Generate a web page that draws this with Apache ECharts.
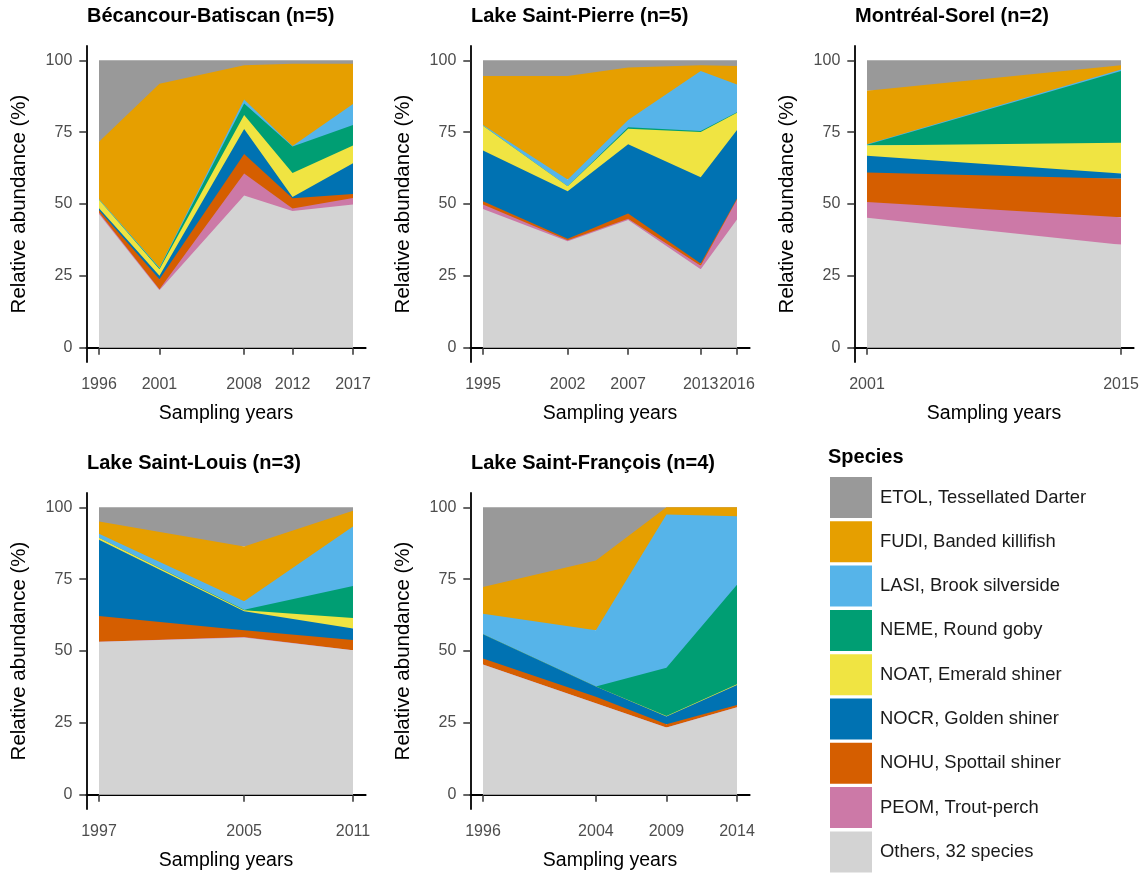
<!DOCTYPE html>
<html>
<head>
<meta charset="utf-8">
<script src="https://cdn.jsdelivr.net/npm/echarts@6/dist/echarts.min.js"></script>
<style>
  html, body { margin: 0; padding: 0; background: #fff; }
  #main { width: 1147px; height: 873px; }
</style>
</head>
<body>
<div id="main"></div>
<script>
// species, bottom of the stack first
var species = ['Others, 32 species', 'PEOM, Trout-perch', 'NOHU, Spottail shiner', 'NOCR, Golden shiner',
  'NOAT, Emerald shiner', 'NEME, Round goby', 'LASI, Brook silverside', 'FUDI, Banded killifish', 'ETOL, Tessellated Darter'];
var colors = ['#D3D3D3', '#CC79A7', '#D55E00', '#0072B2', '#F0E442', '#009E73', '#56B4E9', '#E69F00', '#999999'];
var yTicks = [0, 25, 50, 75, 100];

// relative abundance (%), one row per species in the order above
var becYears = [1996, 2001, 2008, 2012, 2017];
var becancour = [
  [46.5, 20, 53, 47.6, 49.8],
  [0.5, 0.3, 7.6, 0.8, 2.3],
  [0.8, 3.5, 6.8, 3.6, 1.4],
  [0.7, 1.2, 8.7, 0.4, 10.7],
  [3, 2.3, 4.9, 8.4, 6.2],
  [0, 0.3, 4, 9.2, 7.1],
  [0.2, 0.3, 1.4, 0.2, 7.3],
  [20, 64, 11.9, 28.6, 14],
  [28.3, 8.1, 1.7, 1.2, 1.2]
];

var lspYears = [1995, 2002, 2007, 2013, 2016];
var saintPierre = [
  [48.3, 37, 44.4, 27.3, 44.6],
  [1.5, 0.4, 0.5, 1.2, 7],
  [1.2, 0.5, 1.8, 0.8, 0.3],
  [17.6, 16.5, 24.1, 30, 23.9],
  [8.6, 1.8, 5.4, 15.8, 6],
  [0, 0, 0.5, 0.3, 0.1],
  [0.3, 2.3, 2.5, 20.9, 9.7],
  [17.1, 36.1, 18.3, 2, 6.4],
  [5.4, 5.4, 2.5, 1.7, 2]
];

var msYears = [2001, 2015];
var montreal = [
  [45.2, 35.8],
  [5.5, 9.6],
  [10.3, 13.4],
  [5.8, 1.8],
  [3.6, 10.7],
  [0.2, 25],
  [0.2, 0.5],
  [18.6, 1.5],
  [10.6, 1.7]
];

var lslYears = [1997, 2005, 2011];
var saintLouis = [
  [53.2, 54.7, 50.3],
  [0, 0.2, 0],
  [9, 2.3, 3.5],
  [26.5, 6.6, 4],
  [0.7, 0.4, 3.7],
  [0, 0.2, 11.1],
  [1.4, 2.9, 20.7],
  [4.3, 19.1, 5.5],
  [4.9, 13.6, 1.2]
];

var lsfYears = [1996, 2004, 2009, 2014];
var saintFrancois = [
  [45.3, 31.8, 23.4, 30.4],
  [0, 0, 0, 0],
  [2.1, 2.3, 1.1, 0.8],
  [8.4, 3.5, 2.7, 7],
  [0, 0, 0.2, 0.2],
  [0, 0, 16.8, 34.7],
  [7.2, 19.6, 53.3, 23.8],
  [9.3, 24.3, 2.5, 3.1],
  [27.7, 18.5, 0, 0]
];

// grid widths chosen so the first and last sampling years land on whole pixels
var panels = [
  {title: 'Bécancour-Batiscan (n=5)', years: becYears, vals: becancour, left: 86.3, top: 46},
  {title: 'Lake Saint-Pierre (n=5)', years: lspYears, vals: saintPierre, left: 470.3, top: 46},
  {title: 'Montréal-Sorel (n=2)', years: msYears, vals: montreal, left: 854.3, top: 46},
  {title: 'Lake Saint-Louis (n=3)', years: lslYears, vals: saintLouis, left: 86.3, top: 493},
  {title: 'Lake Saint-François (n=4)', years: lsfYears, vals: saintFrancois, left: 470.3, top: 493}
];

var font = 'Liberation Sans, Arial, sans-serif';
var chart = echarts.init(document.getElementById('main'));

var grids = [], xAxes = [], yAxes = [], series = [], titles = [];
panels.forEach(function (p, k) {
  var y0 = p.years[0], y1 = p.years[p.years.length - 1];
  var pad = (y1 - y0) * 0.05;
  grids.push({left: p.left, top: p.top, width: 279.4, height: 316});
  titles.push({
    text: p.title, left: Math.round(p.left) - 4, top: p.top - 45,
    textStyle: {fontFamily: font, fontSize: 20, fontWeight: 'bold', color: '#000'}
  });
  xAxes.push({
    type: 'value', gridIndex: k, min: y0 - pad, max: y1 + pad,
    name: 'Sampling years', nameLocation: 'middle', nameGap: 42,
    nameTextStyle: {fontFamily: font, fontSize: 19.5, color: '#000'},
    splitLine: {show: false},
    axisLine: {lineStyle: {color: '#000', width: 1.8}},
    axisTick: {customValues: p.years, length: 7, lineStyle: {color: '#333', width: 1.5}},
    axisLabel: {customValues: p.years, margin: 15, fontFamily: font, fontSize: 16, color: '#4D4D4D',
      formatter: function (v) { return String(v); }}
  });
  yAxes.push({
    type: 'value', gridIndex: k, min: -5, max: 105,
    name: 'Relative abundance (%)', nameLocation: 'middle', nameGap: 56,
    nameTextStyle: {fontFamily: font, fontSize: 20.5, color: '#000'},
    splitLine: {show: false},
    axisLine: {show: true, lineStyle: {color: '#000', width: 1.8}},
    axisTick: {customValues: yTicks, length: 7, lineStyle: {color: '#333', width: 1.5}},
    axisLabel: {customValues: yTicks, margin: 14, fontFamily: font, fontSize: 16, color: '#4D4D4D'}
  });
  // cumulative top of each band; upper bands are drawn first and the lower ones cover their base
  var cum = p.years.map(function () { return 0; });
  var tops = species.map(function (s, i) {
    cum = cum.map(function (c, j) { return c + p.vals[i][j]; });
    return cum.slice();
  });
  for (var i = species.length - 1; i >= 0; i--) {
    var base = i === 0 ? 0 : Math.min.apply(null, tops[i - 1]);
    series.push({
      type: 'line', name: species[i], xAxisIndex: k, yAxisIndex: k,
      data: p.years.map(function (yr, j) { return [yr, tops[i][j]]; }),
      symbol: 'none', color: colors[i],
      lineStyle: {width: 0},
      areaStyle: {color: colors[i], opacity: 1, origin: base},
      silent: true, animation: false
    });
  }
});

titles.push({
  text: 'Species', left: 823, top: 442,
  textStyle: {fontFamily: font, fontSize: 20, fontWeight: 'bold', color: '#000'}
});

var option = {
  animation: false,
  title: titles,
  grid: grids,
  xAxis: xAxes,
  yAxis: yAxes,
  legend: {
    orient: 'vertical', left: 830, top: 477, padding: 0,
    data: species.slice().reverse(),
    icon: 'rect', itemWidth: 42, itemHeight: 41, itemGap: 3.3,
    selectedMode: false,
    textStyle: {fontFamily: font, fontSize: 18.4, color: '#1a1a1a', padding: [0, 0, 0, 3]}
  },
  series: series
};
chart.setOption(option);
</script>
</body>
</html>
